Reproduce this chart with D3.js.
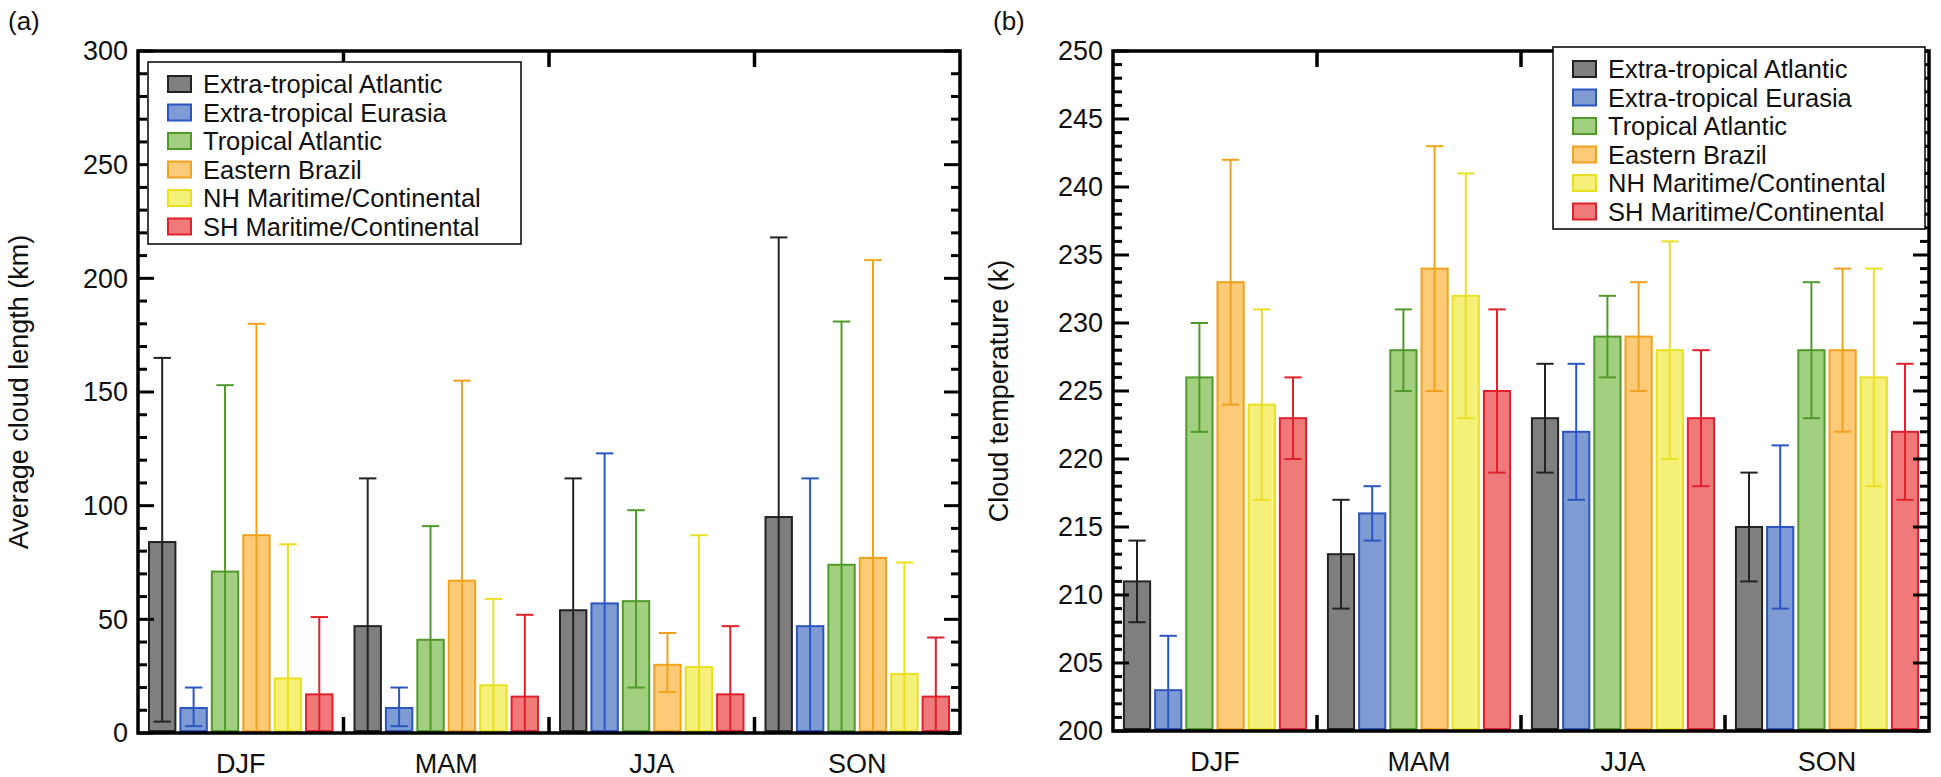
<!DOCTYPE html>
<html>
<meta charset="UTF-8">
<head>
  <script src="https://cdn.jsdelivr.net/npm/d3@7"></script>
  <style>
    body { margin: 0; background: white; }
    text { font-family: "Liberation Sans", Arial, sans-serif; fill: #111; }
  </style>
</head>
<body>
  <svg id="chart" width="1941" height="777"></svg>
  <script type="text/javascript">
    const seasons = ["DJF", "MAM", "JJA", "SON"]
    const regions = ["Extra-tropical Atlantic", "Extra-tropical Eurasia", "Tropical Atlantic",
      "Eastern Brazil", "NH Maritime/Continental", "SH Maritime/Continental"]
    const fills = ["#7f7f7f", "#7f9bd4", "#a3cf80", "#fdcb78", "#f5f07a", "#f07a7a"]
    const strokes = ["#222222", "#2b55c0", "#4f9a2a", "#f0a21c", "#e8e020", "#e0202a"]

    // panel a: cloud length, [mean, low, high] per season per region
    const lengthMean = [[84, 11, 71, 87, 24, 17], [47, 11, 41, 67, 21, 16], [54, 57, 58, 30, 29, 17], [95, 47, 74, 77, 26, 16]]
    const lengthLow = [[5, 3, 0, 0, 0, 0], [0, 3, 0, 0, 0, 0], [0, 0, 20, 18, 0, 0], [0, 0, 0, 0, 0, 0]]
    const lengthHigh = [[165, 20, 153, 180, 83, 51], [112, 20, 91, 155, 59, 52], [112, 123, 98, 44, 87, 47], [218, 112, 181, 208, 75, 42]]

    // panel b: cloud temperature
    const tempMean = [[211, 203, 226, 233, 224, 223], [213, 216, 228, 234, 232, 225], [223, 222, 229, 229, 228, 223], [215, 215, 228, 228, 226, 222]]
    const tempLow = [[208, 200, 222, 224, 217, 220], [209, 214, 225, 225, 223, 219], [219, 217, 226, 225, 220, 218], [211, 209, 223, 222, 218, 217]]
    const tempHigh = [[214, 207, 230, 242, 231, 226], [217, 218, 231, 243, 241, 231], [227, 227, 232, 233, 236, 228], [219, 221, 233, 234, 234, 227]]

    const svg = d3.select("#chart")

    function panel(opt) {
      const g = svg.append("g")
      const x = d3.scaleBand().domain(seasons).range([opt.x0, opt.x1])
      const xi = d3.scaleBand().domain(d3.range(6)).range([0, x.bandwidth()]).paddingInner(0.16).paddingOuter(0.35)
      const y = d3.scaleLinear().domain(opt.domain).range([opt.y1, opt.y0])

      const bars = []
      seasons.forEach((s, si) => regions.forEach((r, ri) => bars.push({
        s, ri, m: opt.mean[si][ri], lo: opt.low[si][ri], hi: opt.high[si][ri]
      })))

      g.selectAll("rect.bar").data(bars).enter().append("rect")
        .attr("x", d => x(d.s) + xi(d.ri))
        .attr("width", xi.bandwidth())
        .attr("y", d => y(d.m))
        .attr("height", d => y(opt.domain[0]) - y(d.m) - 2)
        .style("fill", d => fills[d.ri])
        .style("stroke", d => strokes[d.ri])
        .style("stroke-width", 2)

      const cx = d => x(d.s) + xi(d.ri) + xi.bandwidth() / 2
      const cap = xi.bandwidth() * 0.33
      g.selectAll("line.err").data(bars).enter().append("line")
        .attr("x1", cx).attr("x2", cx)
        .attr("y1", d => y(d.lo)).attr("y2", d => y(d.hi))
        .style("stroke", d => strokes[d.ri]).style("stroke-width", 2)
      g.selectAll("line.capt").data(bars).enter().append("line")
        .attr("x1", d => cx(d) - cap).attr("x2", d => cx(d) + cap)
        .attr("y1", d => y(d.hi)).attr("y2", d => y(d.hi))
        .style("stroke", d => strokes[d.ri]).style("stroke-width", 2)
      g.selectAll("line.capb").data(bars.filter(d => d.lo > opt.domain[0])).enter().append("line")
        .attr("x1", d => cx(d) - cap).attr("x2", d => cx(d) + cap)
        .attr("y1", d => y(d.lo)).attr("y2", d => y(d.lo))
        .style("stroke", d => strokes[d.ri]).style("stroke-width", 2)

      // frame
      g.append("rect").attr("x", opt.x0).attr("y", opt.y0)
        .attr("width", opt.x1 - opt.x0).attr("height", opt.y1 - opt.y0)
        .style("fill", "none").style("stroke", "#000").style("stroke-width", 3.5)

      // y ticks, inward on both sides
      const minor = d3.range(opt.domain[0], opt.domain[1] + 0.001, opt.minor)
      const major = d3.range(opt.domain[0], opt.domain[1] + 0.001, opt.major)
      ;[[opt.x0, 1], [opt.x1, -1]].forEach(([xx, dir]) => {
        g.selectAll(null).data(minor).enter().append("line")
          .attr("x1", xx).attr("x2", d => xx + dir * (major.some(m => Math.abs(m - d) < 1e-6) ? 16 : 9))
          .attr("y1", d => y(d)).attr("y2", d => y(d))
          .style("stroke", "#000").style("stroke-width", 3)
      })
      g.selectAll(null).data(major).enter().append("text")
        .attr("x", opt.x0 - 10).attr("y", d => y(d)).attr("dy", "0.35em")
        .attr("text-anchor", "end").style("font-size", "27px").text(d => d)

      // x separators, inward top and bottom
      const seps = seasons.slice(1).map(s => x(s))
      g.selectAll(null).data(seps).enter().append("line")
        .attr("x1", d => d).attr("x2", d => d).attr("y1", opt.y0).attr("y2", opt.y0 + 16)
        .style("stroke", "#000").style("stroke-width", 3.5)
      g.selectAll(null).data(seps).enter().append("line")
        .attr("x1", d => d).attr("x2", d => d).attr("y1", opt.y1).attr("y2", opt.y1 - 16)
        .style("stroke", "#000").style("stroke-width", 3.5)
      g.selectAll(null).data(seasons).enter().append("text")
        .attr("x", d => x(d) + x.bandwidth() / 2).attr("y", opt.y1 + 40)
        .attr("text-anchor", "middle").style("font-size", "27px").text(d => d)

      g.append("text").attr("transform", `translate(${opt.titleX},${(opt.y0 + opt.y1) / 2}) rotate(-90)`)
        .attr("text-anchor", "middle").style("font-size", "27px").text(opt.title)
      g.append("text").attr("x", opt.labelX).attr("y", 30).style("font-size", "26px").text(opt.label)

      // legend
      const lg = g.append("g").attr("transform", `translate(${opt.lx},${opt.ly})`)
      lg.append("rect").attr("width", opt.lw).attr("height", 182)
        .style("fill", "white").style("stroke", "#000").style("stroke-width", 1.5)
      const row = lg.selectAll("g").data(regions).enter().append("g")
        .attr("transform", (d, i) => `translate(0,${22 + i * 28.5})`)
      row.append("rect").attr("x", 20).attr("y", -8).attr("width", 23).attr("height", 16)
        .style("fill", (d, i) => fills[i]).style("stroke", (d, i) => strokes[i]).style("stroke-width", 2)
      row.append("text").attr("x", 55).attr("dy", "0.36em").style("font-size", "25.5px").text(d => d)
    }

    panel({ x0: 138, x1: 960, y0: 51, y1: 733, domain: [0, 300], minor: 10, major: 50,
      mean: lengthMean, low: lengthLow, high: lengthHigh,
      title: "Average cloud length (km)", titleX: 28, label: "(a)", labelX: 8,
      lx: 148, ly: 62, lw: 373 })
    panel({ x0: 1113, x1: 1929, y0: 51, y1: 731, domain: [200, 250], minor: 1, major: 5,
      mean: tempMean, low: tempLow, high: tempHigh,
      title: "Cloud temperature (k)", titleX: 1008, label: "(b)", labelX: 993,
      lx: 1553, ly: 47, lw: 372 })
  </script>
</body>
</html>
